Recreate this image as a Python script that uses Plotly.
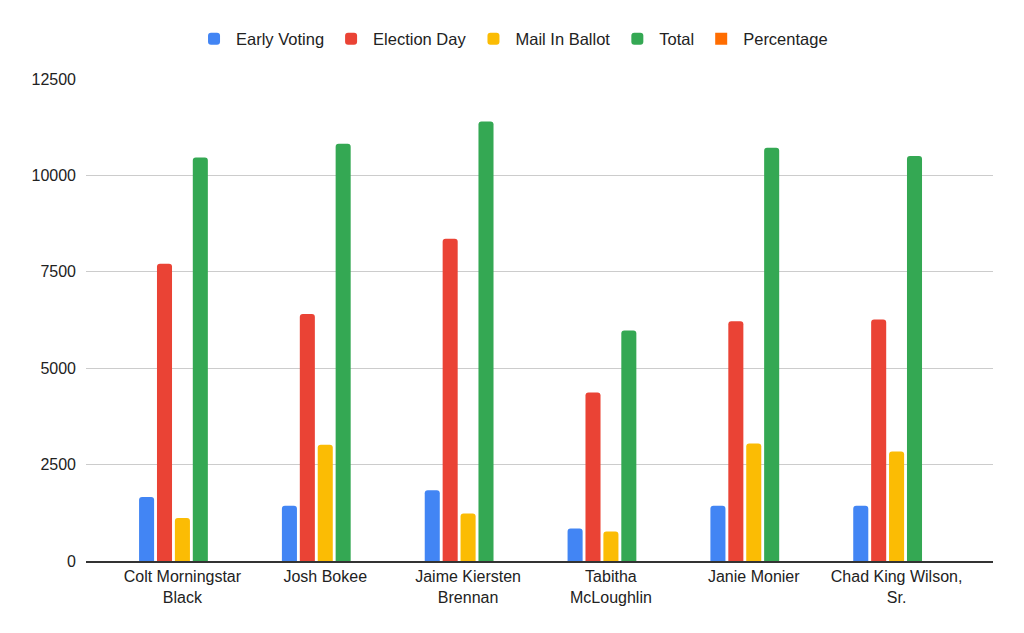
import plotly.graph_objects as go

candidates = ["Colt Morningstar<br>Black", "Josh Bokee", "Jaime Kiersten<br>Brennan",
              "Tabitha<br>McLoughlin", "Janie Monier", "Chad King Wilson,<br>Sr."]
early_voting = [1660, 1436, 1833, 840, 1436, 1436]
election_day = [7712, 6406, 8360, 4367, 6216, 6260]
mail_in_ballot = [1115, 3018, 1229, 762, 3044, 2837]
total = [10461, 10824, 11395, 5975, 10720, 10503]
percentage = [0.17, 0.18, 0.19, 0.10, 0.18, 0.18]

series = [
    ("Early Voting", early_voting, "#4285F4"),
    ("Election Day", election_day, "#EA4335"),
    ("Mail In Ballot", mail_in_ballot, "#FBBC04"),
    ("Total", total, "#34A853"),
    ("Percentage", percentage, "rgba(255,109,1,0.999)"),
]

fig = go.Figure()
for name, vals, color in series:
    radius = 0 if name == "Percentage" else 3
    fig.add_trace(go.Bar(name=name, x=candidates, y=vals,
                         marker=dict(color=color, line_width=0, cornerradius=radius)))

fig.update_layout(
    width=1024, height=633,
    paper_bgcolor="white", plot_bgcolor="white",
    margin=dict(l=78, r=39, t=71, b=80),
    barmode="group", bargap=0.373, bargroupgap=0.16,
    font=dict(family="Liberation Sans, Arial, sans-serif", size=16, color="#222222"),
    legend=dict(orientation="h", xref="container", yref="container",
                x=0.4927, xanchor="center", y=0.951, yanchor="middle",
                font=dict(size=16.5, color="#222222"), itemwidth=34,
                traceorder="normal"),
    xaxis=dict(range=[-0.675, 5.675], showgrid=False, showline=True,
               linecolor="#333333", linewidth=1.5, ticks="",
               tickfont=dict(size=16, color="#222222"), fixedrange=True),
    yaxis=dict(range=[0, 12500], tickvals=[0, 2500, 5000, 7500, 10000, 12500],
               ticktext=["0", "2500", "5000", "7500", "10000", "12500"],
               showgrid=True, gridcolor="#cccccc", gridwidth=1,
               zeroline=False, showline=False, ticks="", ticklen=0,
               tickfont=dict(size=16, color="#222222"), ticklabelstandoff=9),
)

fig.write_html("out.html")
